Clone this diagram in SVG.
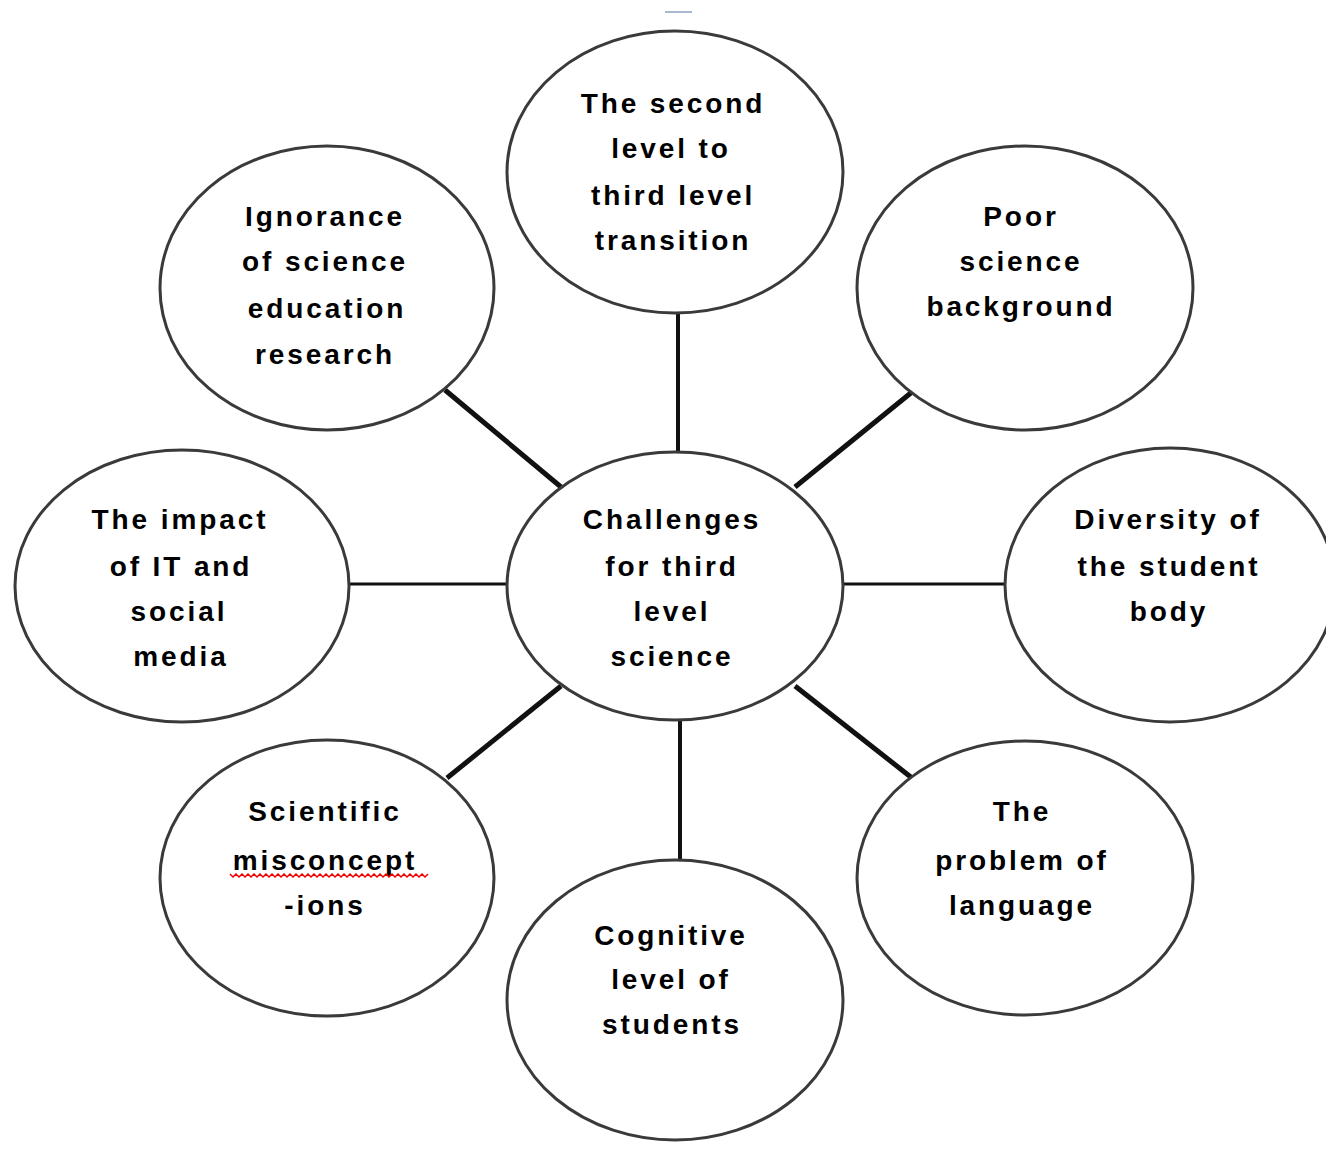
<svg xmlns="http://www.w3.org/2000/svg" width="1326" height="1156" viewBox="0 0 1326 1156">
<style>
.n ellipse{fill:#fff;stroke:#3a3a3a;stroke-width:3}
.n text{font-family:"Liberation Sans",Arial,sans-serif;font-weight:bold;font-size:28px;letter-spacing:2.9px;text-anchor:middle;fill:#000}
.c line{stroke:#111;stroke-linecap:butt}
</style>
<rect width="1326" height="1156" fill="#fff"/>
<line x1="665" y1="12" x2="692" y2="12" stroke="#a9b8cc" stroke-width="2"/>
<g id="connectors" class="c">
<line x1="678" y1="312" x2="678" y2="454" stroke-width="4"/>
<line x1="680" y1="718" x2="680" y2="864" stroke-width="4"/>
<line x1="347" y1="584" x2="508" y2="584" stroke-width="3"/>
<line x1="842" y1="584" x2="1006" y2="584" stroke-width="3"/>
<line x1="445" y1="390" x2="561" y2="487" stroke-width="5"/>
<line x1="912" y1="392" x2="795" y2="487" stroke-width="5"/>
<line x1="447" y1="778" x2="561" y2="686" stroke-width="5"/>
<line x1="912" y1="778" x2="795" y2="686" stroke-width="5"/>
</g>
<g id="n-top" class="n"><ellipse cx="675" cy="172" rx="168" ry="141"/>
<text x="673" y="113">The second</text><text x="671" y="158">level to</text><text x="673" y="205">third level</text><text x="673" y="250">transition</text></g>
<g id="n-topleft" class="n"><ellipse cx="327" cy="288" rx="167" ry="142"/>
<text x="325" y="226">Ignorance</text><text x="325" y="271">of science</text><text x="327" y="318">education</text><text x="325" y="364">research</text></g>
<g id="n-topright" class="n"><ellipse cx="1025" cy="288" rx="168" ry="142"/>
<text x="1021" y="226">Poor</text><text x="1021" y="271">science</text><text x="1021" y="316">background</text></g>
<g id="n-center" class="n"><ellipse cx="675" cy="586" rx="168" ry="134"/>
<text x="672" y="529">Challenges</text><text x="672" y="576">for third</text><text x="672" y="621">level</text><text x="672" y="666">science</text></g>
<g id="n-left" class="n"><ellipse cx="182" cy="586" rx="167" ry="136"/>
<text x="180" y="529">The impact</text><text x="181" y="576">of IT and</text><text x="179" y="621">social</text><text x="181" y="666">media</text></g>
<g id="n-right" class="n"><ellipse cx="1170" cy="585" rx="165" ry="137"/>
<text x="1168" y="529">Diversity of</text><text x="1169" y="576">the student</text><text x="1169" y="621">body</text></g>
<g id="n-bottomleft" class="n"><ellipse cx="327" cy="878" rx="167" ry="138"/>
<text x="325" y="821">Scientific</text><text x="325" y="870">misconcept</text><text x="325" y="915">-ions</text>
<path d="M230 874 l3 3 l3 -3 l3 3 l3 -3 l3 3 l3 -3 l3 3 l3 -3 l3 3 l3 -3 l3 3 l3 -3 l3 3 l3 -3 l3 3 l3 -3 l3 3 l3 -3 l3 3 l3 -3 l3 3 l3 -3 l3 3 l3 -3 l3 3 l3 -3 l3 3 l3 -3 l3 3 l3 -3 l3 3 l3 -3 l3 3 l3 -3 l3 3 l3 -3 l3 3 l3 -3 l3 3 l3 -3 l3 3 l3 -3 l3 3 l3 -3 l3 3 l3 -3 l3 3 l3 -3 l3 3 l3 -3 l3 3 l3 -3 l3 3 l3 -3 l3 3 l3 -3 l3 3 l3 -3 l3 3 l3 -3 l3 3 l3 -3 l3 3 l3 -3 l3 3 l3 -3" fill="none" stroke="#e00" stroke-width="1.5"/></g>
<g id="n-bottom" class="n"><ellipse cx="675" cy="1000" rx="168" ry="140"/>
<text x="671" y="945">Cognitive</text><text x="671" y="989">level of</text><text x="672" y="1034">students</text></g>
<g id="n-bottomright" class="n"><ellipse cx="1025" cy="878" rx="168" ry="137"/>
<text x="1022" y="821">The</text><text x="1022" y="870">problem of</text><text x="1022" y="915">language</text></g>
</svg>
